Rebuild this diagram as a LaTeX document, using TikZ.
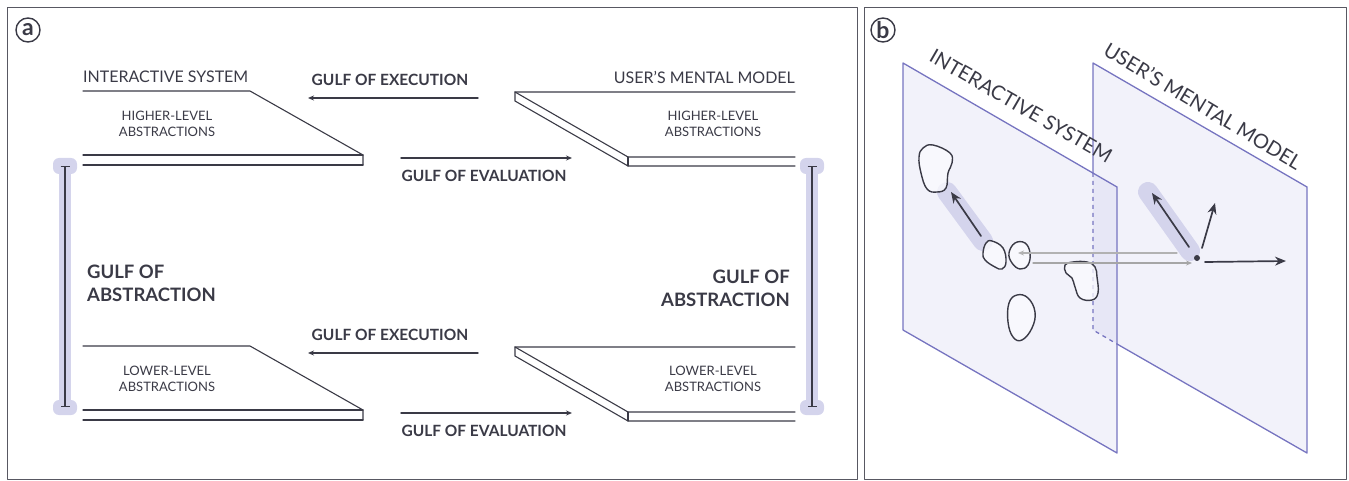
\documentclass[tikz,border=0pt]{standalone}
\usepackage{fontspec}
\setmainfont{Lato}
\usetikzlibrary{arrows.meta}
\definecolor{ink}{HTML}{3A3A46}
\definecolor{band}{HTML}{D4D4EC}
\definecolor{plane}{HTML}{8282D2}
\definecolor{edge}{HTML}{7674C0}
\definecolor{blobfill}{HTML}{FBFBFE}
\tikzset{
  lbl/.style={font=\fontsize{16}{18}\selectfont, text=ink, inner sep=0pt},
  sublbl/.style={font=\fontsize{13}{16}\selectfont, text=ink, align=center, inner sep=0pt},
  gulf/.style={font=\bfseries\fontsize{15.5}{18}\selectfont, text=ink, inner sep=0pt},
  biggulf/.style={font=\bfseries\fontsize{18.5}{23}\selectfont, text=ink, inner sep=0pt},
  panel/.style={circle, draw=ink, line width=1.4pt, minimum size=24pt, inner sep=0pt, font=\bfseries\fontsize{23}{23}\selectfont, text=ink},
  slab/.style={draw=ink, line width=1.1pt, line join=miter},
  flow/.style={->, draw=ink, line width=1.4pt},
  frame/.style={draw=ink!85, line width=1pt},
  planeface/.style={fill=plane, fill opacity=0.1},
  planeedge/.style={draw=edge, line width=1.3pt},
  blob/.style={draw=ink, line width=1.4pt, fill=blobfill, fill opacity=0.75},
  vec/.style={-{Stealth[length=11pt,width=9pt]}, draw=ink, line width=1.7pt},
  glow/.style={draw=band, line width=20pt, line cap=round},
}
\begin{document}
\begin{tikzpicture}[x=1pt, y=-1pt, >={Stealth[length=6pt,width=5pt]}, line join=round, line cap=round]
  \useasboundingbox (0,0) rectangle (1349,481);
  % frames
  \draw[frame] (7,8) rectangle (857,479);
  \draw[frame] (864,8) rectangle (1346,479);
  \node[panel] (pa) at (28,30) {\raisebox{1pt}{a}};
  \node[panel] (pb) at (883,30) {\raisebox{0pt}{b}};

  % ---------- panel a ----------
  \node[lbl, anchor=west] (sysA) at (83,77) {INTERACTIVE SYSTEM};
  \node[lbl, anchor=east] (usrA) at (795,77) {USER'S MENTAL MODEL};
  \foreach \dy/\lvl in {0/HIGHER, 255/LOWER}{
    % left slab
    \draw[slab] (83,91+\dy) -- (250,91+\dy) -- (363,155+\dy) -- (363,165+\dy);
    \draw[slab] (83,155+\dy) -- (363,155+\dy);
    \draw[slab] (83,165+\dy) -- (363,165+\dy);
    % right slab
    \draw[slab] (795,92+\dy) -- (515,92+\dy) -- (515,101+\dy) -- (628,166+\dy) -- (795,166+\dy);
    \draw[slab] (515,92+\dy) -- (628,157+\dy) -- (795,157+\dy);
    \draw[slab] (628,157+\dy) -- (628,166+\dy);
    \node[sublbl] (absL\dy) at (167,124+\dy) {\lvl-LEVEL\\ABSTRACTIONS};
    \node[sublbl] (absR\dy) at (713,124+\dy) {\lvl-LEVEL\\ABSTRACTIONS};
    % gulfs
    \node[gulf] (exe\dy) at (390,80+\dy) {GULF OF EXECUTION};
    \coordinate (exeS\dy) at (478,98+\dy);
    \coordinate (exeE\dy) at (308,98+\dy);
    \draw[flow] (exeS\dy) -- (exeE\dy);
    \node[gulf] (eva\dy) at (484,176+\dy) {GULF OF EVALUATION};
    \coordinate (evaS\dy) at (401,158+\dy);
    \coordinate (evaE\dy) at (572,158+\dy);
    \draw[flow] (evaS\dy) -- (evaE\dy);
  }
  % gulf of abstraction bars
  \foreach \x/\s in {65/L, 812/R}{
    \coordinate (barT\s) at (\x,166);
    \coordinate (barB\s) at (\x,407);
    \draw[draw=band, line width=12pt, line cap=butt] (barT\s) -- (barB\s);
    \fill[band, rounded corners=6pt] (\x-12,158) rectangle (\x+12,174);
    \fill[band, rounded corners=6pt] (\x-12,400) rectangle (\x+12,415);
    \draw[{Bar[width=9pt]}-{Bar[width=9pt]}, draw=ink, line width=1.3pt, line cap=butt] (barT\s) -- (barB\s);
  }
  \node[biggulf, anchor=west, align=left] (absGL) at (87,283) {GULF OF\\ABSTRACTION};
  \node[biggulf, anchor=east, align=right] (absGR) at (790,288) {GULF OF\\ABSTRACTION};

  % ---------- panel b ----------
  % user's mental model plane (behind)
  \fill[planeface] (1093,63) -- (1307,187) -- (1307,453) -- (1093,330) -- cycle;
  % interactive system plane (front)
  \fill[planeface] (903,63) -- (1117,187) -- (1117,453) -- (903,330) -- cycle;
  \draw[planeedge] (903,63) -- (1117,187) -- (1117,453) -- (903,330) -- cycle;
  \draw[planeedge] (1093,173) -- (1093,63) -- (1307,187) -- (1307,453) -- (1117,344);
  \draw[planeedge, dashed, dash pattern=on 4pt off 4pt, line cap=butt] (1093,173) -- (1093,330) -- (1117,344);
  \node[font=\fontsize{20}{20}\selectfont, text=ink, rotate=-30] (sysB) at (1021,106) {INTERACTIVE SYSTEM};
  \node[font=\fontsize{20}{20}\selectfont, text=ink, rotate=-31] (usrB) at (1203,106) {USER'S MENTAL MODEL};
  % glows
  \draw[glow] (947,192) -- (983,241);
  \draw[glow] (1148,192) -- (1190,251);
  % concepts
  \draw[blob] plot[smooth cycle, tension=0.7] coordinates {(933,145) (950,153) (952,163) (948,173) (946,188) (937,192) (927,189) (921,173) (919,157) (923,148)};
  \draw[blob] plot[smooth cycle, tension=0.7] coordinates {(992,241) (1003,248) (1006,262) (1002,269) (995,267) (985,260) (983,253) (986,243)};
  \draw[blob] plot[smooth cycle, tension=0.7] coordinates {(1015,243) (1025,243) (1030,253) (1028,265) (1020,269) (1012,263) (1009,253)};
  \draw[blob] plot[smooth cycle, tension=0.7] coordinates {(1065,265) (1073,262) (1087,262) (1095,267) (1097,277) (1098,293) (1092,300) (1080,298) (1075,287) (1072,278) (1066,273)};
  \draw[blob] plot[smooth cycle, tension=0.7] coordinates {(1017,295) (1028,298) (1035,312) (1032,328) (1022,340) (1013,337) (1008,322) (1009,303)};
  % mapping between planes
  \coordinate (mapS) at (1177,253);
  \coordinate (mapE) at (1018,253);
  \coordinate (backS) at (1033,263);
  \coordinate (backE) at (1192,263);
  \draw[->, draw=black!30, line width=1.1pt] (mapS) -- (mapE);
  \draw[->, draw=black!35, line width=1.1pt] (backS) -- (backE);
  % vectors
  \coordinate (dirS) at (981,236);
  \coordinate (dirE) at (951,192);
  \draw[vec] (dirS) -- (dirE);
  \coordinate (vS) at (1189,247);
  \coordinate (vE) at (1152,193);
  \draw[vec] (vS) -- (vE);
  \node[circle, fill=ink, inner sep=0pt, minimum size=6pt] (pt) at (1197,258) {};
  \coordinate (upS) at (1202,248);
  \coordinate (upE) at (1215,203);
  \draw[vec] (upS) -- (upE);
  \coordinate (rtS) at (1205,262);
  \coordinate (rtE) at (1286,261);
  \draw[vec] (rtS) -- (rtE);
\end{tikzpicture}
\end{document}
